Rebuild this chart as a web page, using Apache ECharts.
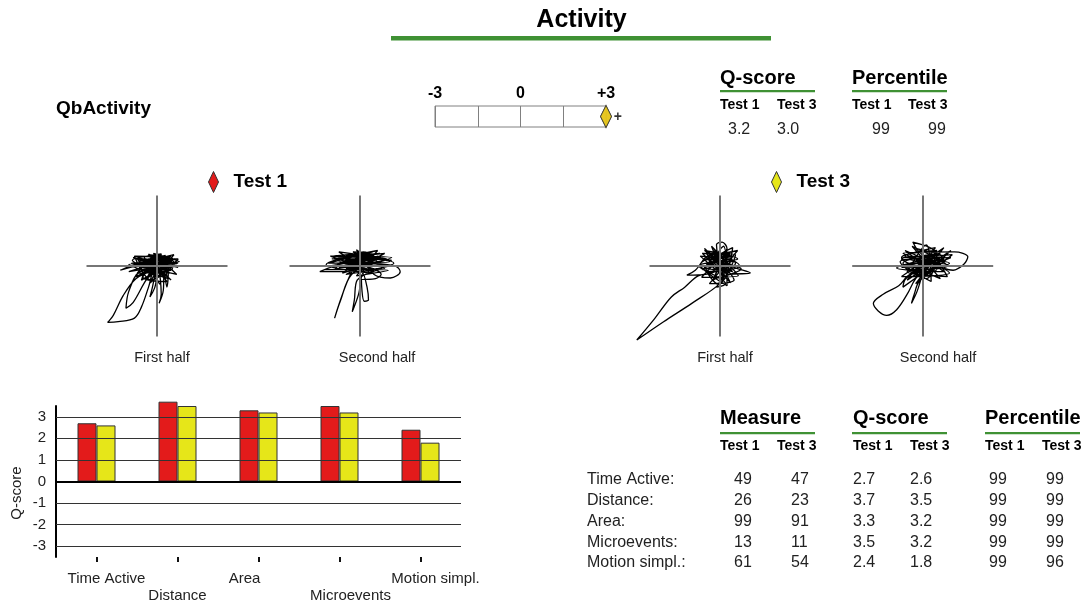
<!DOCTYPE html>
<html>
<head>
<meta charset="utf-8">
<script src="https://cdn.jsdelivr.net/npm/echarts@6/dist/echarts.min.js"></script>
<style>
html,body{margin:0;padding:0;background:#fff;}
#chart{width:1089px;height:606px;}
</style>
</head>
<body>
<div id="chart"></div>
<script>
// ---------- data ----------
const categories = ['Time Active', 'Distance', 'Area', 'Microevents', 'Motion simpl.'];
const testNames = ['Test 1', 'Test 3'];
const qTest1 = [2.7, 3.7, 3.3, 3.5, 2.4];
const qTest3 = [2.6, 3.5, 3.2, 3.2, 1.8];
const measureTest1 = [49, 26, 99, 13, 61];
const measureTest3 = [47, 23, 91, 11, 54];
const pctTest1 = [99, 99, 99, 99, 99];
const pctTest3 = [99, 99, 99, 99, 96];
const overallQ = [3.2, 3.0];
const overallPct = [99, 99];
const qGridTicks = [-3, -2, -1, 0, 1, 2, 3];
const scaleTickLabels = { '-3': '-3', '0': '0', '3': '+3' };
const traceLabels = ['First half', 'Second half', 'First half', 'Second half'];
const crossExtent = [-1, 1];

// movement traces (normalised units, crosshair at 0,0)
const traceT1First = [
[0.00,0.05],[0.18,0.12],[-0.22,0.08],[0.28,0.03],[-0.30,0.02],[0.22,0.10],[-0.12,0.16],[0.10,-0.04],[-0.36,0.04],[0.32,0.06],[-0.05,0.18],[0.14,-0.08],[-0.26,-0.04],[0.20,0.14],[-0.52,-0.06],[-0.10,0.06],[0.30,-0.02],[-0.18,0.12],[0.06,0.17],[-0.04,-0.12],[-0.28,0.10],[0.24,0.06],[-0.40,-0.08],[0.02,0.02],[0.18,-0.10],[-0.20,0.04],[0.12,0.15],[-0.08,-0.06],
[-0.30,-0.18],[-0.48,-0.42],[-0.62,-0.70],[-0.70,-0.80],[-0.55,-0.79],[-0.32,-0.74],[-0.22,-0.58],[-0.12,-0.30],[-0.04,-0.06],
[0.16,0.08],[-0.14,0.14],[0.26,0.00],[-0.24,-0.08],
[-0.40,-0.36],[-0.44,-0.60],[-0.34,-0.52],[-0.18,-0.24],[0.00,0.04],
[-0.06,-0.28],[-0.10,-0.44],[-0.03,-0.30],[0.02,-0.06],[0.06,-0.40],[0.03,-0.53],[0.09,-0.34],[0.10,-0.06],[0.14,-0.30],[0.16,-0.12],
[-0.12,0.10],[0.30,0.04],[-0.34,0.12],[0.20,-0.06],[-0.16,0.00],[0.08,0.14],[-0.02,0.08],[0.22,0.12],[-0.26,0.06],[0.12,0.02],
[-0.30,-0.15],[0.25,0.10],[-0.15,-0.18],[0.05,0.16],[-0.35,0.08],[0.28,-0.12],[-0.05,0.12],[-0.22,-0.20],[0.18,0.04],[-0.40,0.02],[0.10,-0.16],[-0.12,0.17],[0.22,-0.04],[-0.28,-0.10],[0.00,0.15],[0.15,-0.18],[-0.18,0.06],[0.30,0.10],[-0.08,-0.20],[-0.32,0.14],[0.12,0.08],[-0.02,-0.14],[0.24,0.16],[-0.25,0.00],[0.06,-0.08],
[-0.10,-0.24],[0.08,0.10],[-0.20,-0.16],[0.14,-0.22],[-0.06,0.04],[0.20,-0.20],[-0.16,0.10],[0.04,-0.26]
];
const traceT1Second = [
[0.00,0.05],[0.30,0.12],[-0.30,0.06],[0.40,0.02],[-0.42,0.00],[0.20,0.16],[-0.10,0.20],[0.35,-0.04],[-0.50,-0.05],[0.10,0.12],[0.45,0.08],[-0.25,0.14],[0.05,-0.06],[-0.57,-0.08],[-0.15,0.08],[0.28,0.18],[-0.35,0.10],[0.50,0.00],[0.57,-0.08],[0.43,-0.17],[0.20,-0.12],[-0.05,0.23],[0.15,0.04],[-0.20,-0.04],[0.38,0.10],[-0.38,0.14],[0.08,0.18],[-0.08,-0.02],
[-0.18,-0.22],[-0.30,-0.55],[-0.36,-0.74],[-0.28,-0.50],[-0.12,-0.12],
[0.25,0.10],[-0.28,0.04],[0.32,-0.02],
[-0.04,-0.20],[-0.08,-0.48],[-0.11,-0.65],[-0.02,-0.40],[0.04,-0.10],
[0.10,-0.30],[0.12,-0.48],[0.06,-0.50],[0.02,-0.20],[0.22,-0.18],[0.30,-0.12],
[-0.22,0.12],[0.18,0.20],[-0.45,0.04],[0.42,0.06],[-0.10,0.16],[0.12,0.00],[-0.30,-0.02],[0.26,0.14],[0.00,0.10],
[-0.40,0.10],[0.35,0.18],[-0.20,-0.12],[0.48,0.04],[-0.30,0.20],[0.15,-0.10],[-0.48,0.02],[0.25,0.22],[-0.05,-0.14],[0.40,-0.06],[-0.35,-0.04],[0.05,0.20],[0.30,0.00],[-0.15,0.18],[0.20,-0.08],[-0.42,0.14],[0.45,0.12],[-0.10,-0.06],[0.12,0.14],[-0.25,-0.10],[0.35,0.08],[0.00,0.02]
];
const traceT3First = [
[0.00,0.00],[-0.20,0.18],[0.15,0.10],[-0.25,-0.05],[0.10,0.22],[-0.10,-0.20],[0.22,0.04],[-0.28,0.14],[0.05,-0.15],[-0.05,0.30],[0.03,0.34],[0.10,0.25],[-0.15,0.05],[0.18,-0.08],[-0.22,0.22],[0.25,0.10],[-0.30,0.00],[0.08,-0.25],[-0.05,-0.30],[0.12,-0.12],[0.43,-0.10],[0.20,-0.02],[-0.12,0.12],[0.15,0.20],[-0.20,-0.12],[-0.47,-0.13],[-0.35,-0.06],[-0.15,0.15],[0.05,0.05],[0.30,-0.04],[-0.08,-0.18],[0.02,0.18],[-0.25,0.08],[0.18,0.14],[0.00,-0.22],[0.12,0.02],
[-0.12,-0.10],[-0.31,-0.14],[-0.50,-0.30],[-0.69,-0.44],[-0.93,-0.75],[-1.18,-1.05],[-0.80,-0.79],[-0.40,-0.53],[0.00,-0.25],
[0.06,-0.12],[-0.18,0.10],[0.20,0.06],[-0.10,0.20],[0.08,-0.05],[-0.22,-0.02],[0.14,0.16],[0.00,0.06],
[-0.22,0.25],[0.20,-0.20],[-0.15,-0.25],[0.25,0.22],[-0.28,0.02],[0.10,-0.28],[0.05,0.28],[-0.18,-0.08],[0.28,0.00],[-0.08,0.22],[0.15,-0.24],[-0.25,0.18],[0.22,0.16],[-0.02,-0.26],[-0.20,-0.02],[0.18,0.26],[0.08,-0.10],[-0.12,0.28],[0.26,-0.14],[-0.26,-0.16],[0.00,0.12]
];
const traceT3Second = [
[0.00,0.05],[0.25,0.18],[-0.20,0.10],[0.35,0.02],[-0.30,-0.02],[0.15,0.22],[-0.14,0.34],[-0.05,0.20],[0.30,-0.08],[-0.37,-0.03],[0.10,0.10],[0.40,0.12],[-0.15,-0.10],[0.20,-0.05],[-0.28,0.18],[0.45,0.20],[0.64,0.13],[0.58,0.02],[0.43,-0.06],[0.15,0.04],[-0.10,0.25],[0.28,0.14],[-0.32,0.06],[0.05,-0.18],[0.22,0.08],[-0.22,-0.08],[0.35,-0.15],[0.10,0.16],[-0.05,-0.05],[0.18,0.26],[-0.25,0.14],[0.38,0.04],
[-0.18,-0.12],[-0.34,-0.28],[-0.56,-0.40],[-0.70,-0.53],[-0.51,-0.70],[-0.37,-0.62],[-0.22,-0.40],[-0.10,-0.18],
[0.12,0.06],[-0.20,0.02],[0.30,0.10],
[-0.05,-0.22],[-0.12,-0.40],[-0.16,-0.53],[-0.08,-0.36],[0.00,-0.10],[-0.28,-0.30],[-0.24,-0.18],
[0.20,0.16],[-0.12,0.08],[0.26,-0.02],[0.02,0.14],[-0.30,0.10],[0.10,-0.06],
[-0.25,0.22],[0.38,-0.10],[-0.30,-0.15],[0.30,0.26],[-0.10,-0.25],[0.42,0.16],[-0.28,0.04],[0.12,-0.22],[0.05,0.30],[-0.20,-0.05],[0.35,0.00],[-0.15,0.28],[0.25,-0.18],[-0.30,0.12],[0.20,0.22],[0.00,-0.15],[0.40,0.22],[-0.22,-0.20],[0.10,0.10],[0.30,-0.05]
];
const traces = [traceT1First, traceT1Second, traceT3First, traceT3Second];

// ---------- layout / style ----------
const FONT = '"Liberation Sans", Arial, Helvetica, sans-serif';
const RED = '#e31b1b';
const YELLOW = '#e6e619';
const GREEN = '#3f9134';
const traceCenters = [157, 360, 720, 922.7];
const traceCenterY = 266;
const traceUnit = 70.5;
const traceRange = 1.25;
const traceLabelX = [162, 377, 725, 938];
const labelShift = [10, 0, -14, 11, 15];

function txt(x, y, text, size, bold, color) {
  return {
    type: 'text', x: x, y: y, silent: true,
    style: {
      text: String(text), fontSize: size, fontWeight: bold ? 'bold' : 'normal',
      fontFamily: FONT, fill: color || '#000',
      textAlign: 'left', textVerticalAlign: 'middle', align: 'left', verticalAlign: 'middle'
    }
  };
}
function ctxt(x, y, text, size, bold, color) {
  const t = txt(x, y, text, size, bold, color);
  t.style.textAlign = 'center'; t.style.align = 'center';
  return t;
}
function gline(x1, x2, y) {
  return { type: 'rect', silent: true, shape: { x: x1, y: y, width: x2 - x1, height: 2.2 }, style: { fill: GREEN } };
}

const graphics = [];
graphics.push(ctxt(581.5, 20, 'Activity', 25, true));
graphics.push({ type: 'rect', silent: true, shape: { x: 391, y: 36, width: 380, height: 4.5 }, style: { fill: GREEN } });
graphics.push(txt(56, 109, 'QbActivity', 19, true));

// top table
graphics.push(txt(720, 78, 'Q-score', 20, true));
graphics.push(gline(720, 815, 90));
graphics.push(txt(852, 78, 'Percentile', 20, true));
graphics.push(gline(852, 947, 90));
[720, 777, 852, 908].forEach((x, i) => graphics.push(txt(x, 105, testNames[i % 2], 14, true)));
graphics.push(txt(728, 130, overallQ[0].toFixed(1), 16, false, '#222'));
graphics.push(txt(777, 130, overallQ[1].toFixed(1), 16, false, '#222'));
graphics.push(txt(872, 130, overallPct[0], 16, false, '#222'));
graphics.push(txt(928, 130, overallPct[1], 16, false, '#222'));

// trace labels
traceLabels.forEach((t, i) => graphics.push(ctxt(traceLabelX[i], 358, t, 14.5, false, '#222')));

// bottom table
graphics.push(txt(720, 418, 'Measure', 20, true));
graphics.push(gline(720, 815, 432));
graphics.push(txt(853, 418, 'Q-score', 20, true));
graphics.push(gline(852, 947, 432));
graphics.push(txt(985, 418, 'Percentile', 20, true));
graphics.push(gline(985, 1080, 432));
[720, 777, 853, 910, 985, 1042].forEach((x, i) => graphics.push(txt(x, 446, testNames[i % 2], 14, true)));
categories.forEach((c, i) => {
  const y = 480 + i * 20.7;
  graphics.push(txt(587, y, c + ':', 16, false, '#222'));
  graphics.push(txt(734, y, measureTest1[i], 16, false, '#222'));
  graphics.push(txt(791, y, measureTest3[i], 16, false, '#222'));
  graphics.push(txt(853, y, qTest1[i].toFixed(1), 16, false, '#222'));
  graphics.push(txt(910, y, qTest3[i].toFixed(1), 16, false, '#222'));
  graphics.push(txt(989, y, pctTest1[i], 16, false, '#222'));
  graphics.push(txt(1046, y, pctTest3[i], 16, false, '#222'));
});

// ---------- grids & axes ----------
const grids = [
  { left: 56, top: 406, width: 405, height: 151 },
  { left: 435, top: 106, width: 171, height: 21, show: true, borderColor: '#808080', borderWidth: 1 }
];
const xAxes = [
  {
    type: 'category', gridIndex: 0,
    data: categories.map((c, i) => ({
      value: c,
      textStyle: { padding: labelShift[i] >= 0 ? [0, 0, 0, labelShift[i] * 2] : [0, -labelShift[i] * 2, 0, 0] }
    })),
    axisLine: { show: false, onZero: false },
    axisTick: { show: true, alignWithLabel: true, length: 5, lineStyle: { color: '#111', width: 2 } },
    axisLabel: {
      interval: 0, margin: 13, fontSize: 15, fontFamily: FONT, color: '#222', lineHeight: 17.5,
      formatter: (v, i) => (i % 2 ? '\n' + v : v)
    },
    splitLine: { show: false }
  },
  {
    type: 'value', gridIndex: 1, min: -3, max: 3, interval: 1.5, position: 'top',
    axisLine: { show: false }, axisTick: { show: false },
    splitLine: { show: true, lineStyle: { color: '#808080', width: 1 } },
    axisLabel: {
      margin: 4, fontSize: 16, fontWeight: 'bold', fontFamily: FONT, color: '#000',
      formatter: v => scaleTickLabels[String(v)] || ''
    }
  }
];
const yAxes = [
  {
    type: 'value', gridIndex: 0, min: -3.5, max: 3.5, interval: 0.5,
    axisLine: { show: true, onZero: false, lineStyle: { color: '#000', width: 2 } },
    axisTick: { show: false }, splitLine: { show: false },
    axisLabel: { margin: 10, fontSize: 15, fontFamily: FONT, color: '#222', formatter: v => (Number.isInteger(v) ? String(v) : '') },
    name: 'Q-score', nameLocation: 'middle', nameGap: 32, nameRotate: 90,
    nameTextStyle: { fontSize: 15, fontFamily: FONT, color: '#222', padding: [0, 23, 0, 0] }
  },
  { type: 'value', gridIndex: 1, min: 0, max: 1, show: false }
];
const half = traceUnit * traceRange;
traceCenters.forEach((cx, k) => {
  grids.push({ left: cx - half, top: traceCenterY - half, width: half * 2, height: half * 2 });
  const ax = { type: 'value', gridIndex: k + 2, min: -traceRange, max: traceRange, show: false };
  xAxes.push(Object.assign({}, ax));
  yAxes.push(Object.assign({}, ax));
});

// ---------- series ----------
const series = [
  {
    name: 'grid', type: 'line', xAxisIndex: 0, yAxisIndex: 0, data: categories.map(() => null),
    silent: true, z: 1, symbol: 'none',
    markLine: {
      silent: true, symbol: ['none', 'none'], label: { show: false }, animation: false,
      data: qGridTicks.map(v => ({ yAxis: v, lineStyle: { color: v === 0 ? '#000' : '#333', width: v === 0 ? 2.2 : 1.1, type: 'solid' } }))
    }
  },
  {
    name: testNames[0], type: 'bar', xAxisIndex: 0, yAxisIndex: 0, data: qTest1,
    barWidth: 19, barGap: '0%', clip: false, z: 3,
    itemStyle: { color: RED, borderColor: '#333', borderWidth: 1 }
  },
  {
    name: testNames[1], type: 'bar', xAxisIndex: 0, yAxisIndex: 0, data: qTest3,
    barWidth: 19, barGap: '0%', clip: false, z: 3,
    itemStyle: { color: YELLOW, borderColor: '#333', borderWidth: 1 }
  },
  {
    name: 'Test 1 overall', type: 'scatter', xAxisIndex: 1, yAxisIndex: 1, clip: false, z: 4,
    data: [[Math.min(overallQ[0], 3), 0.5]], symbol: 'diamond', symbolSize: [11, 22],
    itemStyle: { color: RED, borderColor: '#333', borderWidth: 1 }
  },
  {
    name: 'Test 3 overall', type: 'scatter', xAxisIndex: 1, yAxisIndex: 1, clip: false, z: 5,
    data: [[Math.min(overallQ[1], 3), 0.5]], symbol: 'diamond', symbolSize: [11, 22],
    itemStyle: { color: YELLOW, borderColor: '#333', borderWidth: 1 },
    label: {
      show: Math.max(overallQ[0], overallQ[1]) > 3, position: 'right', distance: 2, formatter: '+',
      fontSize: 14, fontWeight: 'bold', fontFamily: FONT, color: '#000', offset: [0, 1]
    }
  }
];
traces.forEach((tr, k) => {
  series.push({
    name: 'cross' + k, type: 'line', xAxisIndex: k + 2, yAxisIndex: k + 2, data: [[0, 0]],
    showSymbol: false, symbol: 'none', silent: true, z: 1, lineStyle: { opacity: 0 },
    markLine: {
      silent: true, symbol: ['none', 'none'], label: { show: false }, animation: false,
      lineStyle: { color: '#767676', width: 2, type: 'solid' },
      data: [
        [{ coord: [crossExtent[0], 0] }, { coord: [crossExtent[1], 0] }],
        [{ coord: [0, crossExtent[0]] }, { coord: [0, crossExtent[1]] }]
      ]
    }
  });
  series.push({
    name: 'trace' + k, type: 'line', xAxisIndex: k + 2, yAxisIndex: k + 2, data: tr,
    showSymbol: false, symbol: 'none', smooth: 0.35, clip: false, silent: true, z: 3,
    lineStyle: { color: '#000', width: 1.3 }
  });
});

const legendBase = {
  orient: 'horizontal', icon: 'diamond', itemWidth: 10, itemHeight: 21, selectedMode: false,
  itemStyle: { borderColor: '#333', borderWidth: 1 },
  textStyle: { fontSize: 19, fontWeight: 'bold', fontFamily: FONT, color: '#000', padding: [0, 0, 0, 10] }
};

const chart = echarts.init(document.getElementById('chart'), null, { renderer: 'canvas' });
chart.setOption({
  backgroundColor: '#fff',
  animation: false,
  textStyle: { fontFamily: FONT },
  legend: [
    Object.assign({}, legendBase, { data: [testNames[0]], left: 203, top: 166 }),
    Object.assign({}, legendBase, { data: [testNames[1]], left: 766, top: 166 })
  ],
  grid: grids,
  xAxis: xAxes,
  yAxis: yAxes,
  series: series,
  graphic: { elements: graphics }
});
</script>
</body>
</html>
